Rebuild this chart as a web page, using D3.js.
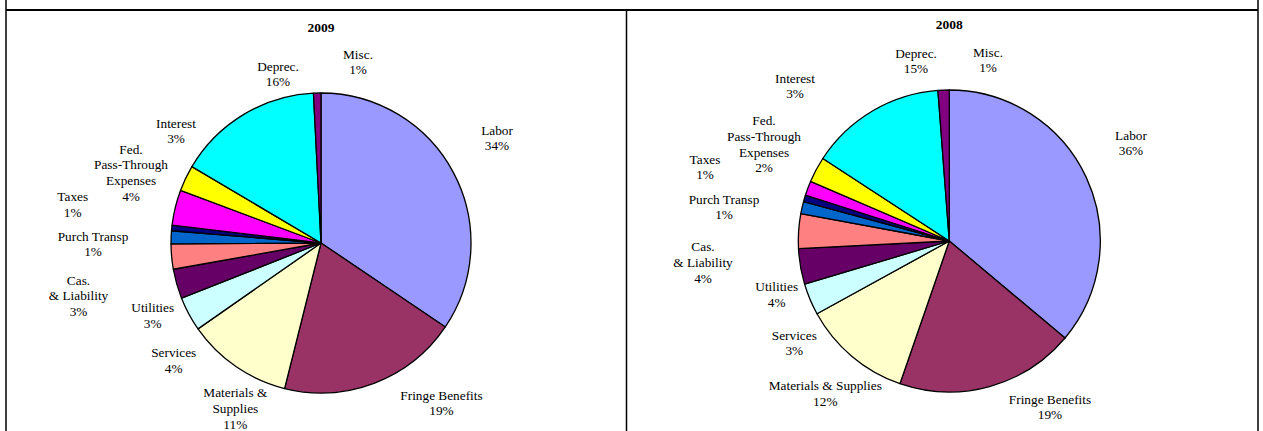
<!DOCTYPE html>
<html>
<head>
<meta charset="utf-8">
<script src="https://cdn.jsdelivr.net/npm/d3@7"></script>
<style>
  body { margin: 0; background: #fff; }
  svg { display: block; }
  text { font-family: "Liberation Serif", "Times New Roman", serif; fill: #000; }
</style>
</head>
<body>
<svg id="chart" width="1263" height="431"></svg>
<script>
// Operating expense shares by category, clockwise from 12 o'clock
const sliceColors = ["#9999FF", "#993366", "#FFFFCC", "#CCFFFF", "#660066", "#FF8080",
                     "#0066CC", "#000080", "#FF00FF", "#FFFF00", "#00FFFF", "#800080"];

const categories2009 = ["Labor", "Fringe Benefits", "Materials &\nSupplies", "Services", "Utilities",
                        "Cas.\n& Liability", "Purch Transp", "Taxes", "Fed.\nPass-Through\nExpenses",
                        "Interest", "Deprec.", "Misc."];
const values2009 = [34.45, 19.45, 11.4, 3.7, 3.2, 2.7, 1.4, 0.6, 3.8, 2.8, 15.7, 0.8];

const categories2008 = ["Labor", "Fringe Benefits", "Materials & Supplies", "Services", "Utilities",
                        "Cas.\n& Liability", "Purch Transp", "Taxes", "Fed.\nPass-Through\nExpenses",
                        "Interest", "Deprec.", "Misc."];
const values2008 = [36.1, 19.2, 11.7, 3.4, 3.8, 3.7, 1.3, 0.7, 1.55, 2.75, 14.6, 1.2];

const chartTitles = ["2009", "2008"];

// Label anchors (centre of first text line) relative to each pie centre
const labelOffsets2009 = [[176, -113], [120.5, 152], [-85.7, 149.7], [-147.3, 109.7], [-168.3, 64.7],
                          [-242.5, 37], [-228, -7], [-248.3, -46.3], [-190, -94], [-145, -120],
                          [-43, -177], [37, -189]];
const labelOffsets2008 = [[181.7, -106], [100.7, 158], [-124, 144.7], [-155, 94], [-172.6, 45.7],
                          [-246.3, 5.7], [-225.3, -42], [-244.3, -82], [-185.3, -120.3], [-154.3, -163],
                          [-33.3, -188], [38.7, -189]];

const panels = [
  { title: chartTitles[0], cats: categories2009, vals: values2009, offsets: labelOffsets2009,
    cx: 321, cy: 243, r: 150, titleY: 27 },
  { title: chartTitles[1], cats: categories2008, vals: values2008, offsets: labelOffsets2008,
    cx: 949.3, cy: 241, r: 151, titleY: 24 }
];

const svg = d3.select("#chart");
const fontSize = 13.3, lineHeight = 15.7;

// Table frame
const frame = svg.append("g").attr("stroke", "#000").attr("fill", "none");
frame.append("line").attr("x1", 6).attr("x2", 6).attr("y1", 0).attr("y2", 431).attr("stroke-width", 1.5);
frame.append("line").attr("x1", 1258).attr("x2", 1258).attr("y1", 0).attr("y2", 431).attr("stroke-width", 1.5);
frame.append("line").attr("x1", 6).attr("x2", 1258).attr("y1", 10).attr("y2", 10).attr("stroke-width", 2);
frame.append("line").attr("x1", 626.5).attr("x2", 626.5).attr("y1", 10).attr("y2", 431).attr("stroke-width", 1.5);

const pie = d3.pie().sort(null).value(d => d);

panels.forEach(p => {
  const g = svg.append("g").attr("transform", `translate(${p.cx},${p.cy})`);
  const arc = d3.arc().innerRadius(0).outerRadius(p.r);
  const total = d3.sum(p.vals);

  g.selectAll("path.slice")
    .data(pie(p.vals))
    .join("path")
    .attr("class", "slice")
    .attr("d", arc)
    .attr("fill", (d, i) => sliceColors[i])
    .attr("stroke", "#000")
    .attr("stroke-width", 1.3)
    .attr("stroke-linejoin", "round");

  svg.append("text")
    .attr("x", p.cx)
    .attr("y", p.titleY + 5)
    .attr("text-anchor", "middle")
    .attr("font-weight", "bold")
    .attr("font-size", 13.5)
    .text(p.title);

  p.cats.forEach((name, i) => {
    const lines = name.split("\n").concat([Math.round(p.vals[i] / total * 100) + "%"]);
    const [ox, oy] = p.offsets[i];
    const t = g.append("text")
      .attr("text-anchor", "middle")
      .attr("font-size", fontSize);
    lines.forEach((ln, k) => {
      t.append("tspan")
        .attr("x", ox)
        .attr("y", oy + 4.6 + k * lineHeight)
        .text(ln);
    });
  });
});
</script>
</body>
</html>
